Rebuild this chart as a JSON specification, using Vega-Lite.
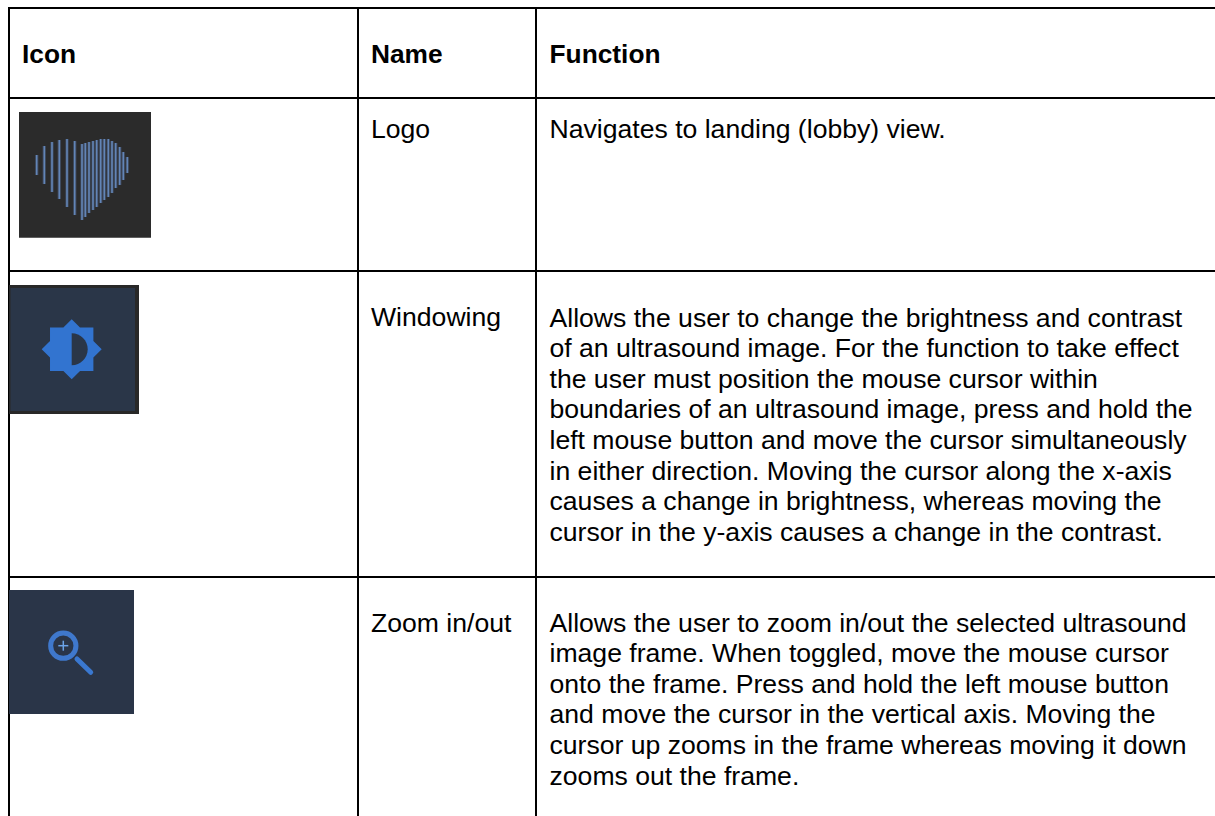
{
"$schema":"https://vega.github.io/schema/vega-lite/v6.json",
"width":1215,"height":816,"padding":0,"background":"white",
"autosize":{"type":"fit","contains":"padding"},
"config":{"view":{"stroke":null}},
"datasets":{
"grid":[{"x":8,"x2":1215,"y":8,"y2":8},{"x":8,"x2":1215,"y":98,"y2":98},{"x":8,"x2":1215,"y":271,"y2":271},{"x":8,"x2":1215,"y":577,"y2":577},{"x":9,"x2":9,"y":7,"y2":816},{"x":358,"x2":358,"y":7,"y2":816},{"x":536,"x2":536,"y":7,"y2":816}],
"panels":[{"part":"logo","x":19,"x2":151,"y":112,"y2":237.7},{"part":"frame","x":9,"x2":139,"y":285,"y2":414},{"part":"windowing","x":10.5,"x2":135,"y":288,"y2":411},{"part":"zoom","x":9,"x2":134,"y":590,"y2":714}],
"stripes":[{"x":36.7,"y":155,"y2":175},{"x":44.3,"y":146,"y2":184},{"x":52,"y":142,"y2":192},{"x":59.3,"y":140,"y2":199},{"x":67,"y":139,"y2":207},{"x":74.7,"y":141,"y2":215},{"x":82,"y":144,"y2":220},{"x":85.3,"y":143,"y2":217},{"x":89,"y":142,"y2":213},{"x":93,"y":141,"y2":210},{"x":96.7,"y":140,"y2":207},{"x":100.7,"y":139,"y2":203},{"x":104.3,"y":139,"y2":200},{"x":108.3,"y":139,"y2":197},{"x":112,"y":141,"y2":193},{"x":115.7,"y":143,"y2":188},{"x":119.7,"y":147,"y2":185},{"x":123.3,"y":152,"y2":180},{"x":127.3,"y":157,"y2":173}],
"lines":[
{"col":1,"line":0,"text":"Icon","kind":"head"},
{"col":2,"line":0,"text":"Name","kind":"head"},
{"col":3,"line":0,"text":"Function","kind":"head"},
{"col":2,"line":2.45,"text":"Logo","kind":"body"},
{"col":3,"line":2.45,"text":"Navigates to landing (lobby) view.","kind":"body"},
{"col":2,"line":8.6,"text":"Windowing","kind":"body"},
{"col":3,"line":8.627,"text":"Allows the user to change the brightness and contrast","kind":"body"},
{"col":3,"line":9.627,"text":"of an ultrasound image. For the function to take effect","kind":"body"},
{"col":3,"line":10.627,"text":"the user must position the mouse cursor within","kind":"body"},
{"col":3,"line":11.627,"text":"boundaries of an ultrasound image, press and hold the","kind":"body"},
{"col":3,"line":12.627,"text":"left mouse button and move the cursor simultaneously","kind":"body"},
{"col":3,"line":13.627,"text":"in either direction. Moving the cursor along the x-axis","kind":"body"},
{"col":3,"line":14.627,"text":"causes a change in brightness, whereas moving the","kind":"body"},
{"col":3,"line":15.627,"text":"cursor in the y-axis causes a change in the contrast.","kind":"body"},
{"col":2,"line":18.595,"text":"Zoom in/out","kind":"body"},
{"col":3,"line":18.595,"text":"Allows the user to zoom in/out the selected ultrasound","kind":"body"},
{"col":3,"line":19.595,"text":"image frame. When toggled, move the mouse cursor","kind":"body"},
{"col":3,"line":20.595,"text":"onto the frame. Press and hold the left mouse button","kind":"body"},
{"col":3,"line":21.595,"text":"and move the cursor in the vertical axis. Moving the","kind":"body"},
{"col":3,"line":22.595,"text":"cursor up zooms in the frame whereas moving it down","kind":"body"},
{"col":3,"line":23.595,"text":"zooms out the frame.","kind":"body"}
]},
"resolve":{"scale":{"x":"independent","y":"independent"}},
"layer":[
{"encoding":{
"x":{"field":"x","type":"quantitative","axis":null,"scale":{"domain":[0,1215],"range":[0,1215],"nice":false,"zero":false}},
"y":{"field":"y","type":"quantitative","axis":null,"scale":{"domain":[0,816],"range":[0,816],"nice":false,"zero":false}}},
"layer":[
{"data":{"name":"grid"},"mark":{"type":"rule","color":"#000000","strokeWidth":2},"encoding":{"x2":{"field":"x2"},"y2":{"field":"y2"}}},
{"data":{"name":"panels"},"mark":{"type":"rect"},"encoding":{"x2":{"field":"x2"},"y2":{"field":"y2"},"color":{"field":"part","type":"nominal","legend":null,"scale":{"domain":["logo","frame","windowing","zoom"],"range":["#2b2b2b","#282828","#2a3648","#2a3548"]}}}},
{"data":{"name":"stripes"},"mark":{"type":"rule","color":"#5f82b8","strokeWidth":3.5,"opacity":0.3},"encoding":{"y2":{"field":"y2"}}},
{"data":{"name":"stripes"},"mark":{"type":"rule","color":"#6a90c8","strokeWidth":1.6,"opacity":0.85},"encoding":{"y2":{"field":"y2"}}},
{"data":{"values":[{"x":71.7,"y":349.3}]},"mark":{"type":"point","filled":true,"opacity":1,"color":"#3274d0","size":3600,"shape":"M0,-1 L0.277,-0.723 L0.723,-0.723 L0.723,-0.277 L1,0 L0.723,0.277 L0.723,0.723 L0.277,0.723 L0,1 L-0.277,0.723 L-0.723,0.723 L-0.723,0.277 L-1,0 L-0.723,-0.277 L-0.723,-0.723 L-0.277,-0.723 Z"}},
{"data":{"values":[{"x":71.7,"y":349.3}]},"mark":{"type":"point","filled":true,"opacity":1,"color":"#2a3648","size":1024,"shape":"M0,-1 C0.55,-1 1,-0.55 1,0 C1,0.55 0.55,1 0,1 Z"}},
{"data":{"values":[{"x":63.3,"y":645.7}]},"mark":{"type":"point","filled":false,"opacity":1,"color":"#3f78cc","strokeWidth":5,"size":640,"shape":"circle"}},
{"data":{"values":[{"x":77,"x2":90.7,"y":659,"y2":672.3}]},"mark":{"type":"rule","color":"#3a78d0","strokeWidth":5,"strokeCap":"round"},"encoding":{"x2":{"field":"x2"},"y2":{"field":"y2"}}},
{"data":{"values":[{"x":58.3,"x2":68.3,"y":645.7,"y2":645.7},{"x":63.3,"x2":63.3,"y":640.7,"y2":650.7}]},"mark":{"type":"rule","color":"#6ba3e8","strokeWidth":1.5},"encoding":{"x2":{"field":"x2"},"y2":{"field":"y2"}}}
]},
{"data":{"name":"lines"},
"encoding":{
"x":{"field":"col","type":"quantitative","axis":null,"scale":{"domain":[1,2,3],"range":[22,371,549.5],"nice":false,"zero":false}},
"y":{"field":"line","type":"quantitative","axis":null,"scale":{"domain":[-2.049,24.618],"range":[0,816],"nice":false,"zero":false}},
"text":{"field":"text"}},
"layer":[
{"transform":[{"filter":"datum.kind === 'head'"}],"mark":{"type":"text","align":"left","baseline":"alphabetic","font":"Liberation Sans","fontSize":26.3,"fontWeight":"bold","color":"#000000"}},
{"transform":[{"filter":"datum.kind === 'body'"}],"mark":{"type":"text","align":"left","baseline":"alphabetic","font":"Liberation Sans","fontSize":26.6,"color":"#000000"}}
]}
]}
